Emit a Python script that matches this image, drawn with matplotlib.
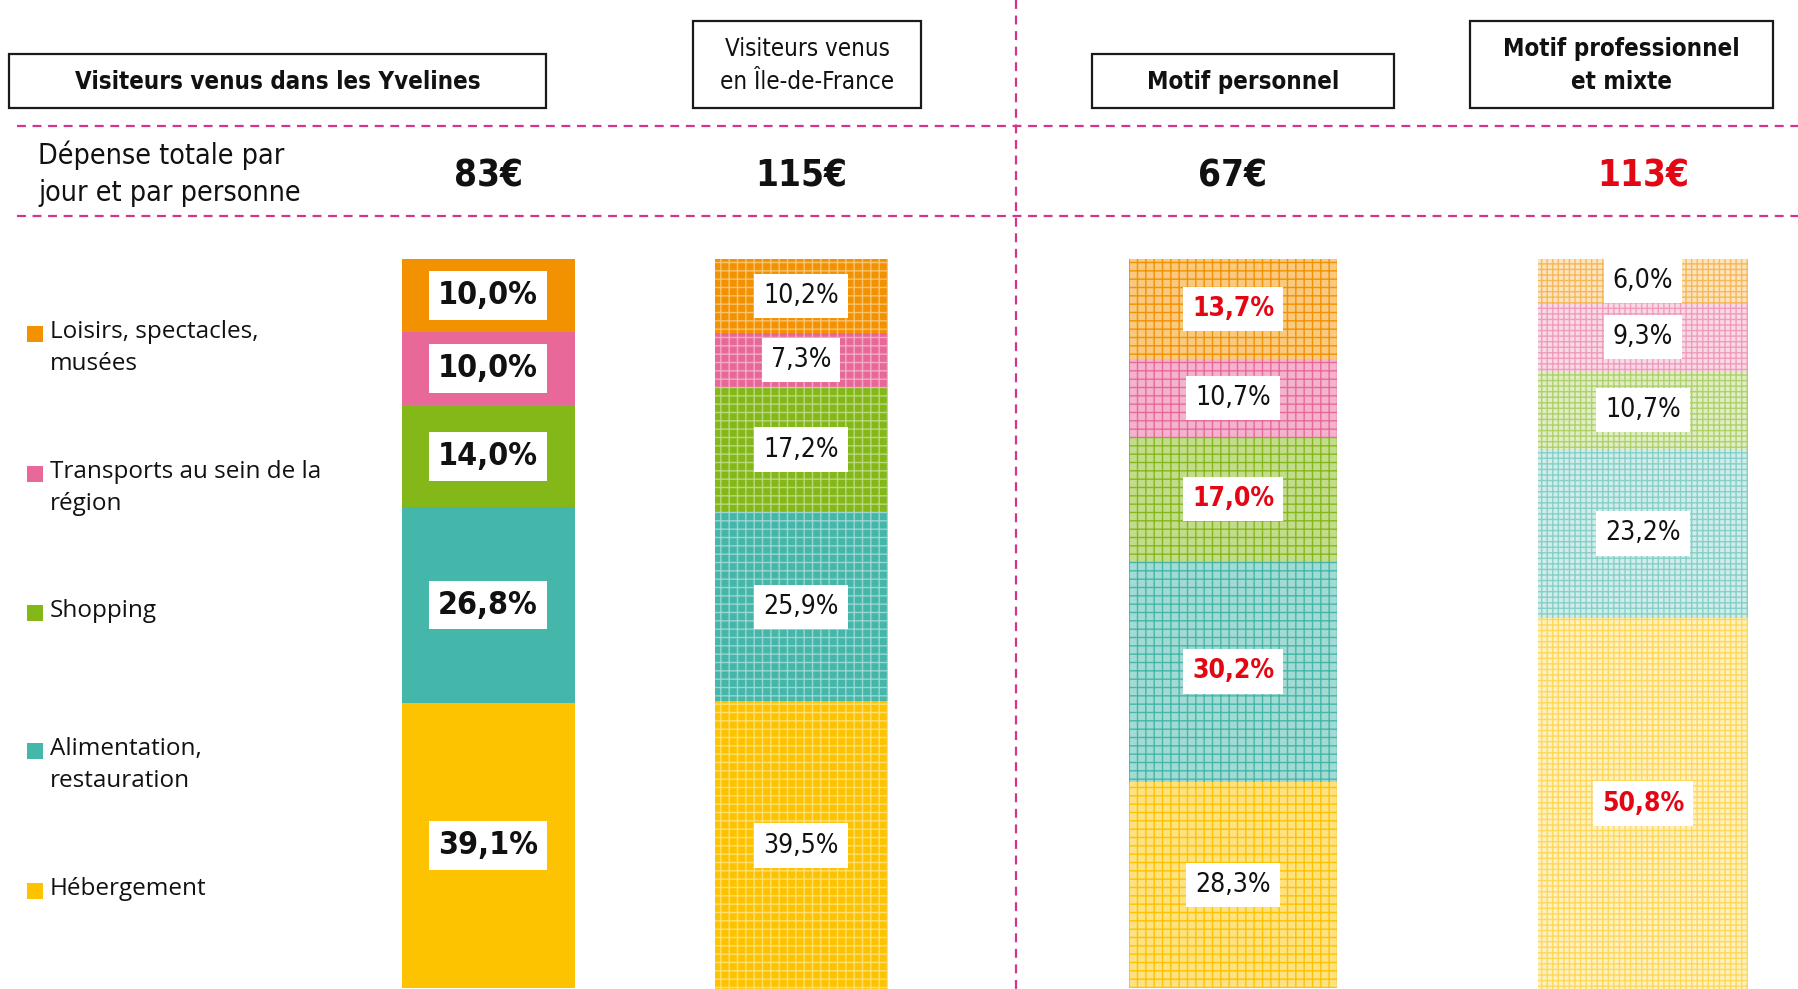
import matplotlib.pyplot as plt
import matplotlib.colors as mcolors
import numpy as np

plt.rcParams['font.family'] = ['DejaVu Sans']
plt.rcParams['font.stretch'] = 'condensed'
plt.rcParams['hatch.linewidth'] = 1.0

W, H = 1798, 989

categories = ["Loisirs, spectacles,\nmusées",
              "Transports au sein de la\nrégion",
              "Shopping",
              "Alimentation,\nrestauration",
              "Hébergement"]
colors = ["#F39200", "#E8689A", "#84B819", "#45B6AA", "#FDC300"]

groups = ["Visiteurs venus dans les Yvelines",
          "Visiteurs venus\nen Île-de-France",
          "Motif personnel",
          "Motif professionnel\net mixte"]
totals = ["83€", "115€", "67€", "113€"]

# share of spending, top to bottom (loisirs -> hébergement)
yvelines = [10.0, 10.0, 14.0, 26.8, 39.1]
idf = [10.2, 7.3, 17.2, 25.9, 39.5]
personnel = [13.7, 10.7, 17.0, 30.2, 28.3]
pro_mixte = [6.0, 9.3, 10.7, 23.2, 50.8]
series = [yvelines, idf, personnel, pro_mixte]

# labels in red / bold
highlight = [[False]*5, [False]*5, [True, False, True, True, False],
             [False, False, False, False, True]]

red = "#E30613"
pink_line = "#D6338A"


def mix(c, amount):
    r = np.array(mcolors.to_rgb(c))
    return tuple(r + (1 - r) * amount)


fig = plt.figure(figsize=(W/100, H/100), dpi=100)

# overlay axes in pixel coords for headers & lines
ov = fig.add_axes([0, 0, 1, 1])
ov.set_xlim(0, W)
ov.set_ylim(H, 0)
ov.axis('off')

# bar axes
bar_top = 259
ax = fig.add_axes([0, 0, 1, (H - bar_top) / H])
ax.set_xlim(0, W)
ax.set_ylim(0, 100)
ax.axis('off')

# header boxes
boxes = [(9, 54, 537, 54), (693, 21, 228, 87), (1092, 54, 302, 54), (1470, 21, 303, 87)]
bold_hdr = [True, False, True, True]
for (bx, by, bw, bh), name, b in zip(boxes, groups, bold_hdr):
    ov.add_patch(plt.Rectangle((bx, by), bw, bh, facecolor='white',
                               edgecolor='#1a1a1a', linewidth=1.6))
    ov.text(bx + bw/2, by + bh/2 + 1, name, ha='center', va='center',
            fontsize=17.3, fontweight='bold' if b else 'normal',
            linespacing=1.5, color='#111111')

# dashed separators
for yy in [126, 216]:
    ov.plot([17, W], [yy, yy], color=pink_line, lw=1.6, dashes=(4, 3))
ov.plot([1016, 1016], [0, H], color=pink_line, lw=1.6, dashes=(4, 3))

ov.text(38, 174, "Dépense totale par\njour et par personne", ha='left',
        va='center', fontsize=20.5, linespacing=1.4, color='#111111')

centers = [488, 801, 1233, 1643]
widths = [173, 173, 208, 210]
for cx, t, i in zip(centers, totals, range(4)):
    ov.text(cx, 176, t, ha='center', va='center', fontsize=26.5,
            fontweight='bold', color=red if i == 3 else '#111111')

# legend
leg_y = [334, 474, 613, 751, 891]
for c, lab, ly in zip(colors, categories, leg_y):
    ov.add_patch(plt.Rectangle((27, ly - 8), 16, 16, facecolor=c, edgecolor='none'))
    ov.text(50, ly - 14, lab, ha='left', va='top', fontsize=17.5,
            family=['Open Sans', 'DejaVu Sans'], stretch='normal',
            linespacing=1.45, color='#111111')

# stacked bars, drawn from the top down
for gi, (vals, cx, w) in enumerate(zip(series, centers, widths)):
    top = 100.0
    for k, (v, c) in enumerate(zip(vals, colors)):
        bottom = top - v
        if gi == 0:
            ax.bar(cx, v, bottom=bottom, width=w, color=c, linewidth=0)
        elif gi == 1:
            ax.bar(cx, v, bottom=bottom, width=w, facecolor=c,
                   edgecolor=mix(c, 0.45), hatch='++', linewidth=0)
        elif gi == 2:
            ax.bar(cx, v, bottom=bottom, width=w, facecolor=mix(c, 0.5),
                   edgecolor=c, hatch='++', linewidth=0)
        else:
            ax.bar(cx, v, bottom=bottom, width=w, facecolor=mix(c, 0.75),
                   edgecolor=mix(c, 0.35), hatch='+++', linewidth=0)
        lab = f"{v:.1f}".replace('.', ',') + '%'
        hl = highlight[gi][k]
        if gi == 0:
            ax.text(cx, bottom + v/2, lab, ha='center', va='center', fontsize=23,
                    fontweight='bold', color='#111111',
                    bbox=dict(facecolor='white', edgecolor='none',
                              boxstyle='square,pad=0.28'))
        else:
            ax.text(cx, bottom + v/2, lab, ha='center', va='center', fontsize=19,
                    fontweight='bold' if hl else 'normal',
                    color=red if hl else '#111111',
                    bbox=dict(facecolor='white', edgecolor='none',
                              boxstyle='square,pad=0.35'))
        top = bottom

fig.savefig("out.png", dpi=100)
